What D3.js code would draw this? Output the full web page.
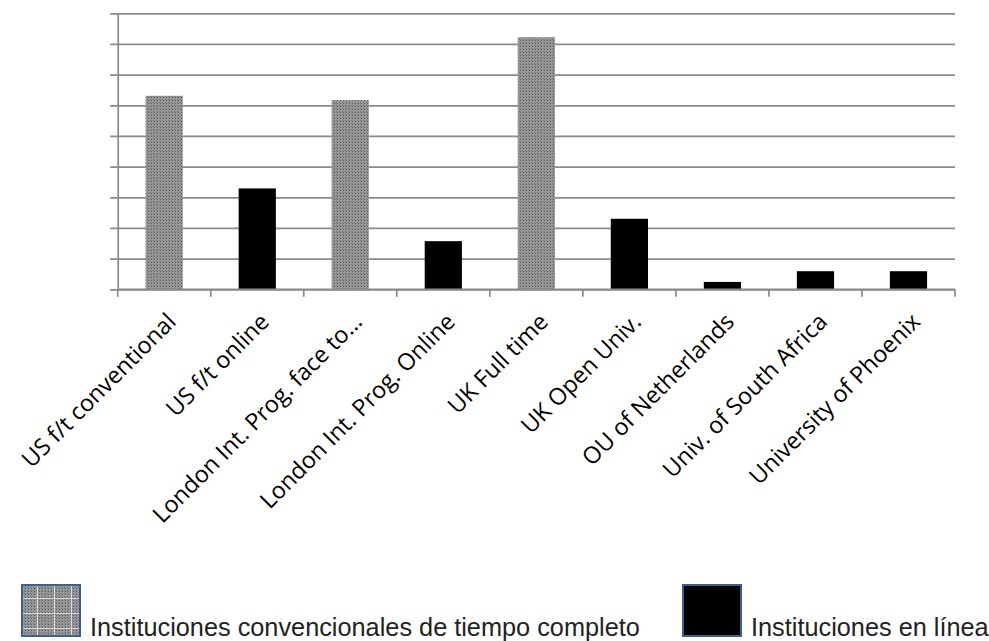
<!DOCTYPE html>
<html>
<head>
<meta charset="utf-8">
<script src="https://cdn.jsdelivr.net/npm/d3@7"></script>
<style>
  html, body { margin: 0; padding: 0; background: #fff; }
  svg { display: block; }
</style>
</head>
<body>
<svg id="chart" width="989" height="641"></svg>
<script>
// ---- data ----
const categories = [
  "US f/t conventional",
  "US f/t online",
  "London Int. Prog. face to…",
  "London Int. Prog. Online",
  "UK Full time",
  "UK Open Univ.",
  "OU of Netherlands",
  "Univ. of South Africa",
  "University of Phoenix"
];
const values = [6.31, 3.29, 6.17, 1.57, 8.22, 2.30, 0.24, 0.59, 0.59];
const seriesType = ["conv", "online", "conv", "online", "conv", "online", "online", "online", "online"];
const yTicks = [0, 1, 2, 3, 4, 5, 6, 7, 8, 9];
const legendLabels = ["Instituciones convencionales de tiempo completo", "Instituciones en línea"];
const legendKeys = ["conv", "online"];

// ---- layout ----
const svg = d3.select("#chart");
const x0 = 117.7, x1 = 955, yTop = 13.3, yBase = 289.3;
const gridColor = "#8a8a8a";

const x = d3.scaleBand().domain(categories).range([x0, x1]).paddingInner(0.6).paddingOuter(0.3);
const y = d3.scaleLinear().domain([0, 9]).range([yBase, yTop]);

// patterns
const defs = svg.append("defs");
const pat = defs.append("pattern").attr("id", "dots").attr("patternUnits", "userSpaceOnUse")
  .attr("width", 3).attr("height", 3);
pat.append("rect").attr("width", 3).attr("height", 3).attr("fill", "#989898");
pat.append("rect").attr("x", 1).attr("y", 1).attr("width", 1).attr("height", 1).attr("fill", "#545454");
pat.append("rect").attr("x", 0).attr("y", 0).attr("width", 1).attr("height", 1).attr("fill", "#747474");

const fills = { conv: "url(#dots)", online: "#000" };

// gridlines + y ticks
const yAxis = d3.axisLeft(y).tickValues(yTicks).tickSize(-(x1 - x0)).tickSizeOuter(0).tickFormat("");
const gy = svg.append("g").attr("transform", `translate(${x0},0)`).call(yAxis);
gy.selectAll(".tick line").attr("stroke", gridColor).attr("stroke-width", 1.7).attr("x1", -7.5);
gy.select(".domain").attr("stroke", gridColor).attr("stroke-width", 1.7);

// bars
svg.append("g").selectAll("rect").data(categories).join("rect")
  .attr("x", d => x(d))
  .attr("width", x.bandwidth())
  .attr("y", (d, i) => y(values[i]))
  .attr("height", (d, i) => y(0) - y(values[i]))
  .attr("fill", (d, i) => fills[seriesType[i]]);

// x axis line and boundary ticks
const gx = svg.append("g");
gx.append("line").attr("x1", x0).attr("x2", x1).attr("y1", yBase).attr("y2", yBase)
  .attr("stroke", gridColor).attr("stroke-width", 1.7);
const bnd = d3.range(categories.length + 1).map(i => x0 + i * x.step());
gx.selectAll("line.tk").data(bnd).join("line").attr("class", "tk")
  .attr("x1", d => d).attr("x2", d => d).attr("y1", yBase).attr("y2", yBase + 7.5)
  .attr("stroke", gridColor).attr("stroke-width", 1.7);

// category labels
svg.append("g").selectAll("text").data(categories).join("text")
  .attr("transform", d => `translate(${x(d) + x.bandwidth() / 2 + 1},${311}) rotate(-45)`)
  .attr("text-anchor", "end")
  .attr("dy", "0.74em")
  .attr("font-family", "'Open Sans', sans-serif")
  .attr("font-size", 23.3)
  .attr("fill", "#000")
  .text(d => d);

// legend
const legPat = defs.append("pattern").attr("id", "legpat").attr("patternUnits", "userSpaceOnUse")
  .attr("x", 21).attr("y", 584).attr("width", 17).attr("height", 15);
legPat.append("rect").attr("width", 17).attr("height", 15).attr("fill", "url(#dots)");
legPat.append("rect").attr("x", 16).attr("y", 0).attr("width", 1.5).attr("height", 15).attr("fill", "#dcdcdc");
legPat.append("rect").attr("x", 0).attr("y", 14).attr("width", 17).attr("height", 1.5).attr("fill", "#dcdcdc");

const legendX = [21, 682];
const legFill = { conv: "url(#legpat)", online: "#000" };
const lg = svg.append("g");
legendKeys.forEach((k, i) => {
  lg.append("rect").attr("x", legendX[i] + 1).attr("y", 585).attr("width", 58).attr("height", 51)
    .attr("fill", legFill[k]).attr("stroke", "#3d5f8e").attr("stroke-width", 2);
  lg.append("text").attr("x", legendX[i] + 69).attr("y", 636)
    .attr("font-family", "'Liberation Sans', Arial, sans-serif")
    .attr("font-size", 25.3)
    .attr("fill", "#222")
    .text(legendLabels[i]);
});
</script>
</body>
</html>
